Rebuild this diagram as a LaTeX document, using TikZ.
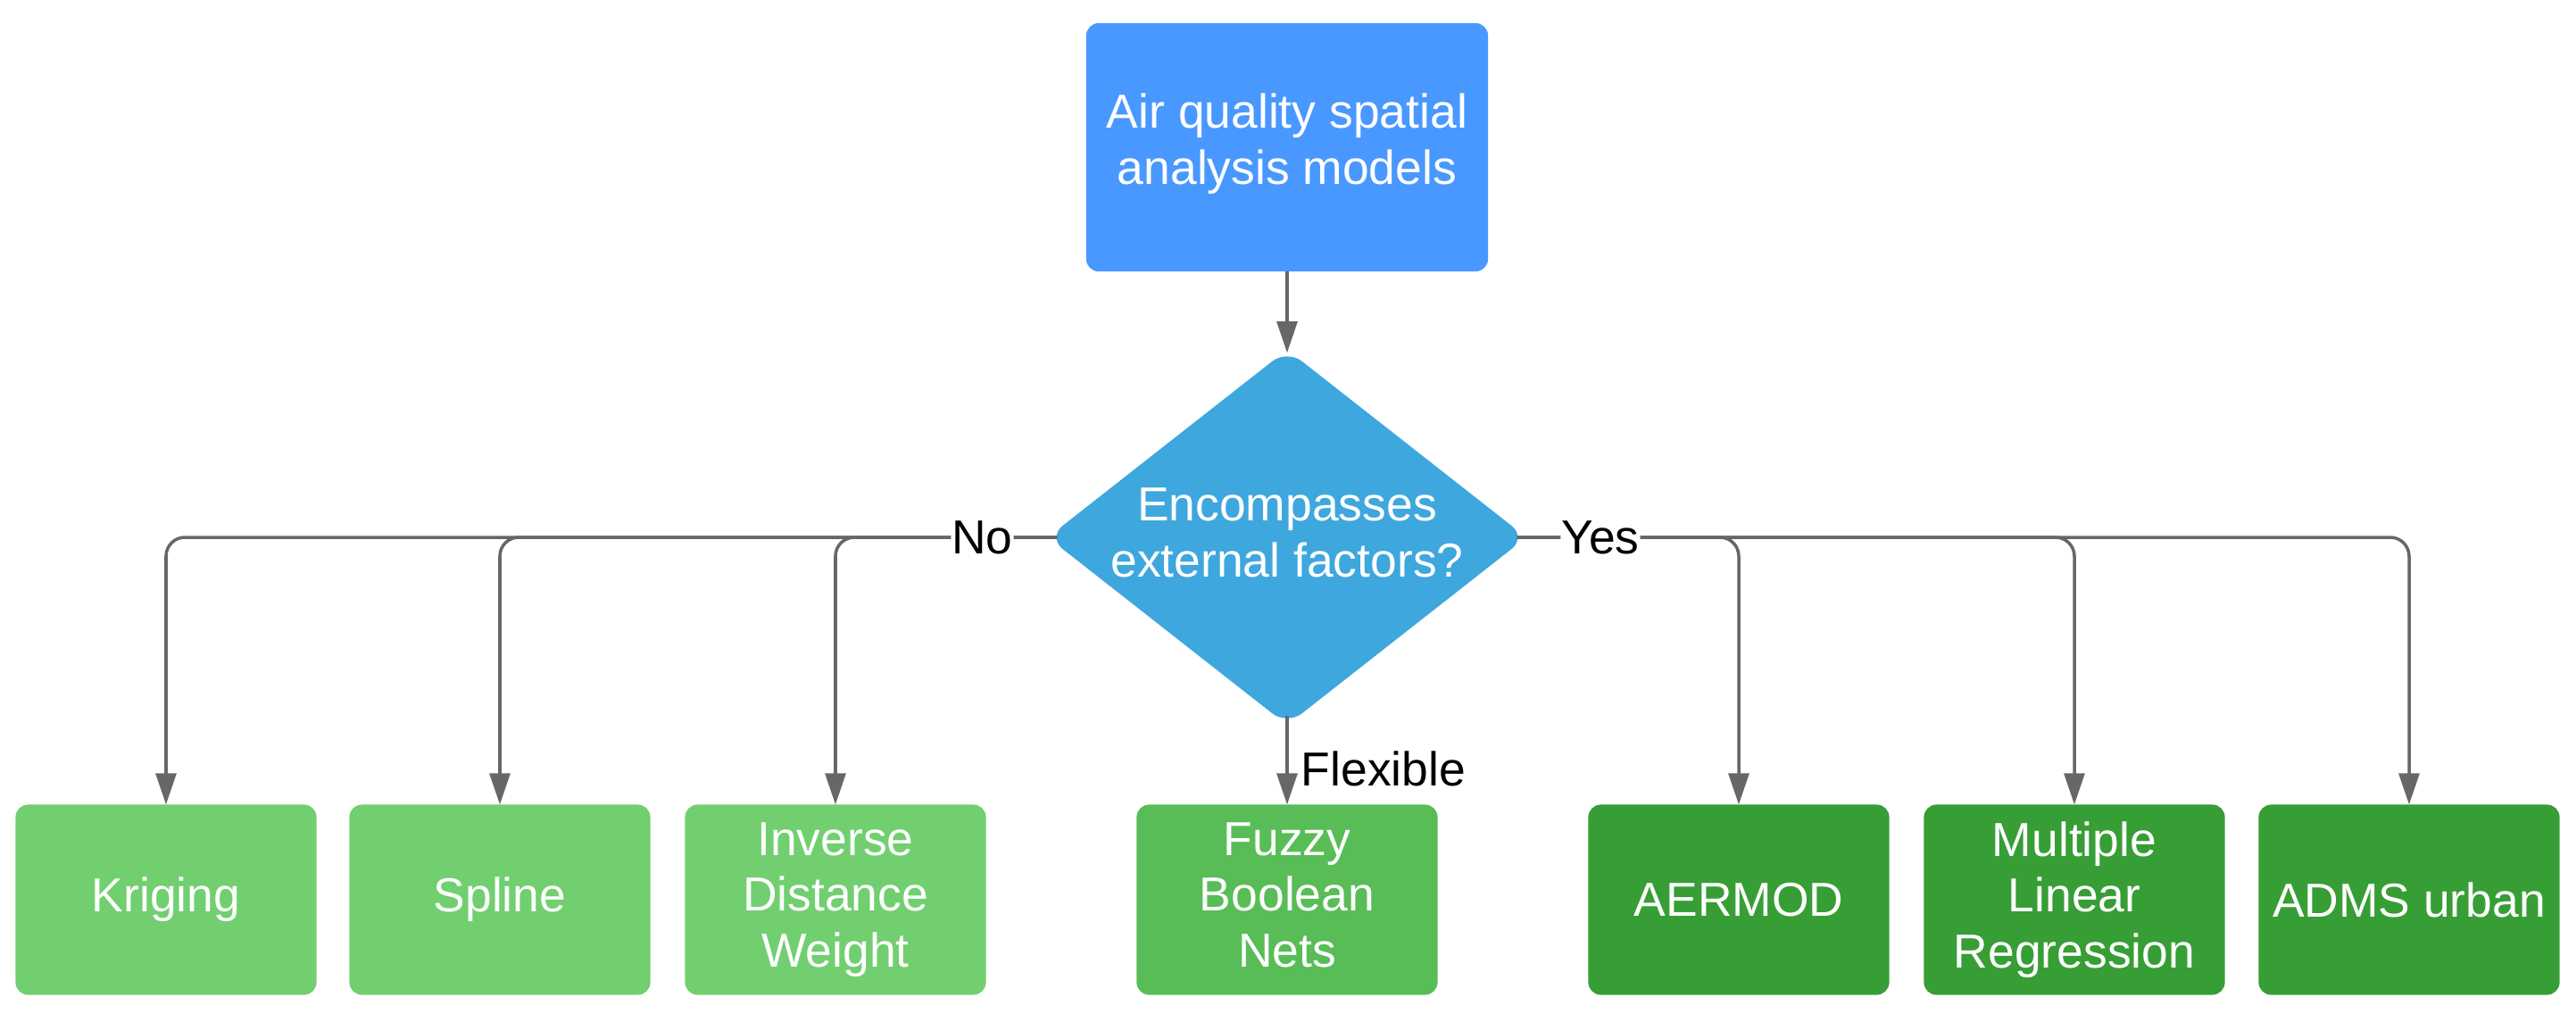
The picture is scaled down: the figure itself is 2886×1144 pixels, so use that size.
\documentclass[tikz,border=0pt]{standalone}
\usepackage{fontspec}
\setmainfont{Liberation Sans}
\usetikzlibrary{shapes.geometric,arrows.meta}
\definecolor{topblue}{HTML}{4998FF}
\definecolor{diablue}{HTML}{3EA7DE}
\definecolor{lgreen}{HTML}{71CF70}
\definecolor{mgreen}{HTML}{58BD57}
\definecolor{dgreen}{HTML}{369E35}
\definecolor{linegray}{HTML}{676767}
\tikzset{
  txt/.style={font=\fontsize{15.2}{17.8}\selectfont, text=white, align=center, outer sep=0pt},
  boxa/.style={txt, rectangle, rounded corners=4pt, minimum width=3.37cm, minimum height=2.13cm, inner sep=0pt},
  topbox/.style={txt, rectangle, rounded corners=4pt, fill=topblue, minimum width=4.5cm, minimum height=2.78cm, inner sep=0pt},
  dia/.style={txt, diamond, aspect=1.275, fill=diablue, minimum width=5.1cm, minimum height=4cm, inner sep=0pt, rounded corners=6pt},
  conn/.style={draw=linegray, line width=1pt, rounded corners=6pt, -{Triangle[length=10pt,width=6.5pt]}},
  lab/.style={font=\fontsize{15.2}{17.8}\selectfont, text=black, fill=white, inner sep=0.3pt},
  flab/.style={font=\fontsize{15.2}{17.8}\selectfont, text=black, inner sep=0pt},
}
\begin{document}
\begin{tikzpicture}[x=0.01cm,y=-0.01cm]
\useasboundingbox (0,0) rectangle (2886,1144);
\node[topbox] (top) at (1442,165) {Air quality spatial\\analysis models\rule[-5.3pt]{0pt}{0pt}};
\node[dia] (d) at (1442,602) {Encompasses\\external factors?\rule[-3.2pt]{0pt}{0pt}};
\node[boxa, fill=lgreen] (kri) at (186,1008) {Kriging};
\node[boxa, fill=lgreen] (spl) at (560,1008) {Spline};
\node[boxa, fill=lgreen] (idw) at (936,1008) {Inverse\\Distance\\Weight};
\node[boxa, fill=mgreen] (fuz) at (1442,1008) {Fuzzy\\Boolean\\Nets\vphantom{g}};
\node[boxa, fill=dgreen] (aer) at (1948,1008) {AERMOD};
\node[boxa, fill=dgreen] (mlr) at (2324,1008) {Multiple\\Linear\\Regression};
\node[boxa, fill=dgreen] (adm) at (2699,1008) {ADMS urban};

\draw[conn] (top.south) -- ([yshift=-1pt]d.north);
\draw[conn] ([xshift=3pt]d.west) -| (kri.north);
\draw[conn] ([xshift=3pt]d.west) -| (spl.north);
\draw[conn] ([xshift=3pt]d.west) -| node[lab, pos=0.169] {No} (idw.north);
\draw[conn] ([yshift=3pt]d.south) -- node[flab, right, pos=0.6, xshift=4pt] {Flexible} (fuz.north);
\draw[conn] ([xshift=-3pt]d.east) -| (adm.north);
\draw[conn] ([xshift=-3pt]d.east) -| (mlr.north);
\draw[conn] ([xshift=-3pt]d.east) -| node[lab, pos=0.188] {Yes} (aer.north);
\end{tikzpicture}
\end{document}
